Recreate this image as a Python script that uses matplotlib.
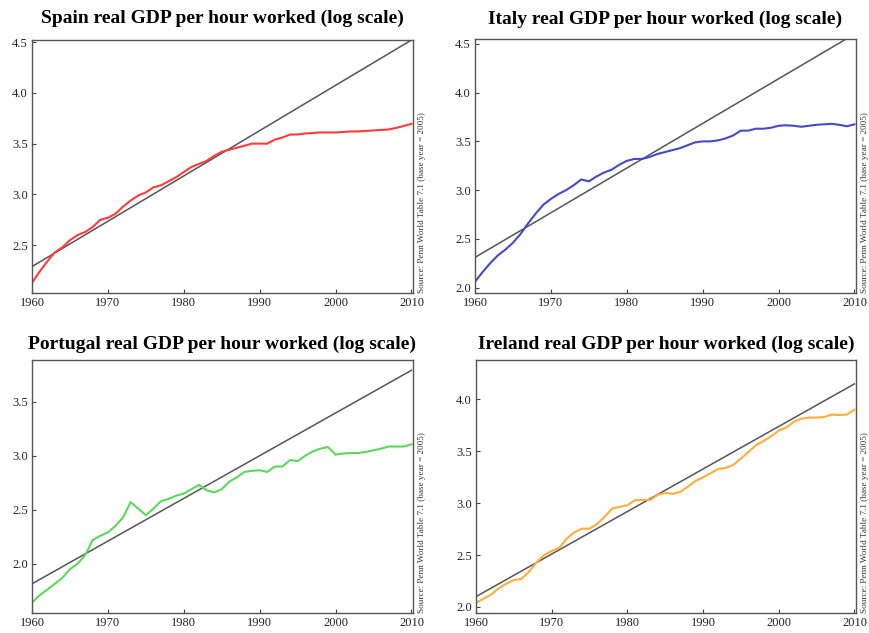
import matplotlib
matplotlib.use('Agg')
from matplotlib import pyplot as plt

# data (log of real GDP per hour worked)
years = list(range(1960, 2011))

spain = [2.13, 2.24, 2.34, 2.43, 2.48, 2.55, 2.60, 2.63, 2.68, 2.75,
         2.77, 2.81, 2.88, 2.94, 2.99, 3.02, 3.07, 3.09, 3.13, 3.17,
         3.22, 3.27, 3.30, 3.33, 3.38, 3.42, 3.44, 3.46, 3.48, 3.50,
         3.50, 3.50, 3.54, 3.56, 3.59, 3.59, 3.60, 3.605, 3.61, 3.61,
         3.61, 3.615, 3.62, 3.62, 3.625, 3.63, 3.635, 3.64, 3.655, 3.675,
         3.695]
italy = [2.06, 2.16, 2.25, 2.33, 2.39, 2.46, 2.55, 2.66, 2.76, 2.85,
         2.91, 2.96, 3.00, 3.05, 3.11, 3.09, 3.14, 3.18, 3.21, 3.26,
         3.30, 3.32, 3.32, 3.34, 3.37, 3.39, 3.41, 3.43, 3.46, 3.49,
         3.50, 3.50, 3.51, 3.53, 3.56, 3.61, 3.61, 3.63, 3.63, 3.64,
         3.66, 3.665, 3.66, 3.65, 3.66, 3.67, 3.675, 3.68, 3.67, 3.655,
         3.675]
portugal = [1.64, 1.71, 1.76, 1.815, 1.87, 1.95, 2.00, 2.08, 2.22, 2.26,
            2.29, 2.35, 2.43, 2.57, 2.51, 2.45, 2.51, 2.58, 2.60, 2.63,
            2.65, 2.69, 2.73, 2.68, 2.66, 2.69, 2.76, 2.80, 2.85, 2.86,
            2.865, 2.85, 2.90, 2.90, 2.96, 2.95, 3.00, 3.04, 3.065, 3.08,
            3.01, 3.02, 3.025, 3.025, 3.035, 3.05, 3.065, 3.085, 3.085, 3.085,
            3.105]
ireland = [2.04, 2.08, 2.12, 2.18, 2.225, 2.26, 2.27, 2.34, 2.43, 2.50,
           2.54, 2.57, 2.66, 2.72, 2.755, 2.755, 2.80, 2.87, 2.95, 2.965,
           2.98, 3.03, 3.03, 3.03, 3.08, 3.10, 3.09, 3.11, 3.16, 3.215,
           3.25, 3.29, 3.33, 3.34, 3.37, 3.43, 3.495, 3.56, 3.60, 3.645,
           3.70, 3.73, 3.785, 3.815, 3.825, 3.825, 3.83, 3.855, 3.85, 3.855,
           3.90]

# linear trend end points (1960, 2010)
trend_years = [1960, 2010]
spain_trend = [2.29, 4.52]
italy_trend = [2.31, 4.60]
portugal_trend = [1.815, 3.79]
ireland_trend = [2.10, 4.15]

panels = [
    ('Spain', spain, spain_trend, '#ff3b3b', (2.03, 4.52), [2.5, 3.0, 3.5, 4.0, 4.5]),
    ('Italy', italy, italy_trend, '#4848c8', (1.945, 4.55), [2.0, 2.5, 3.0, 3.5, 4.0, 4.5]),
    ('Portugal', portugal, portugal_trend, '#5cd85c', (1.545, 3.885), [2.0, 2.5, 3.0, 3.5]),
    ('Ireland', ireland, ireland_trend, '#ffad3b', (1.942, 4.38), [2.0, 2.5, 3.0, 3.5, 4.0]),
]

# axes boxes in pixels: left, right, top, bottom, title pad
boxes = [(32, 413, 40, 293, 12), (475, 856, 39, 293, 11),
         (32, 413, 360, 613, 8), (476, 856, 360, 613, 8)]

W, H = 869, 633
fig = plt.figure(figsize=(W / 100, H / 100), dpi=100)
serif = ['Liberation Serif', 'DejaVu Serif']

for (name, vals, trend, col, ylim, yt), (l, r, t, b, tpad) in zip(panels, boxes):
    ax = fig.add_axes([l / W, 1 - b / H, (r - l) / W, (b - t) / H])
    ax.plot(trend_years, trend, color='#555555', lw=1.1)
    ax.plot(years, vals, color=col, lw=1.5)
    ax.set_xlim(1960, 2010.2)
    ax.set_ylim(*ylim)
    ax.set_xticks([1960, 1970, 1980, 1990, 2000, 2010])
    ax.set_yticks(yt)
    ax.set_yticklabels([f'{v:.1f}' for v in yt])
    ax.tick_params(direction='in', length=3, width=0.8, color='#444444',
                   labelsize=9, pad=3, labelcolor='#222222')
    for lab in ax.get_xticklabels() + ax.get_yticklabels():
        lab.set_family(serif)
    for sp in ax.spines.values():
        sp.set_color('#555555')
        sp.set_linewidth(1.0)
    ax.set_title(f'{name} real GDP per hour worked (log scale)',
                 family=serif, fontweight='bold', fontsize=14, pad=tpad)
    ax.text(1.012, 0.0, 'Source: Penn World Table 7.1 (base year = 2005)',
            transform=ax.transAxes, rotation=90, ha='left', va='bottom',
            fontsize=6.6, family=serif, color='#333333')

plt.savefig('out.png', dpi=100)
